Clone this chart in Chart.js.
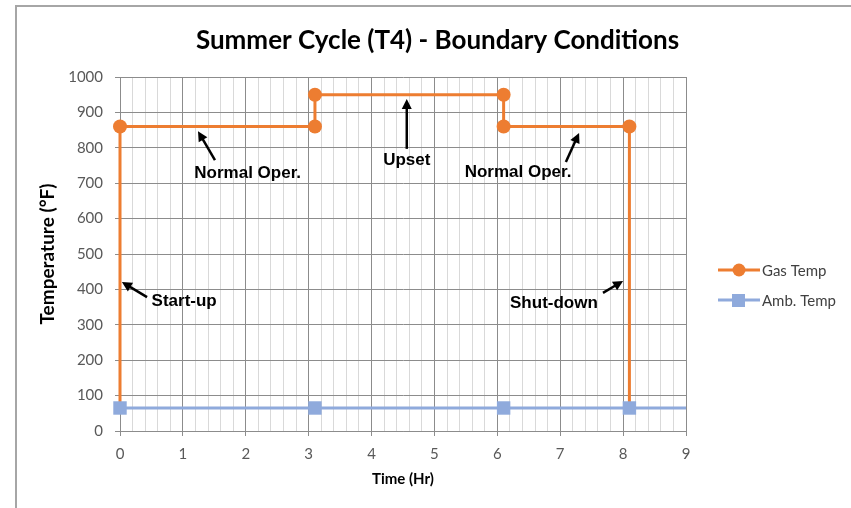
<!DOCTYPE html>
<html>
<head>
<meta charset="utf-8">
<script src="https://cdn.jsdelivr.net/npm/chart.js@4"></script>
<style>
  html, body { margin: 0; padding: 0; background: #fff; }
  #wrap { width: 851px; height: 508px; }
</style>
</head>
<body>
<div id="wrap"><canvas id="grafico" width="851" height="508"></canvas></div>
<script>
// Datos
const gasTime = [0, 0, 3.1, 3.1, 6.1, 6.1, 8.1, 8.1];
const gasTemp = [65, 860, 860, 950, 950, 860, 860, 65];
const gasMarker = [0, 1, 1, 1, 1, 1, 1, 0];
const ambTime = [0, 3.1, 6.1, 8.1, 9];
const ambTemp = [65, 65, 65, 65, 65];
const ambMarker = [1, 1, 1, 1, 0];
const seriesNames = ['Gas Temp', 'Amb. Temp'];

// Notas con flecha (en unidades de los ejes): texto, posición del texto, punta y cola de la flecha
const noteText = ['Normal Oper.', 'Upset', 'Normal Oper.', 'Start-up', 'Shut-down'];
const noteX    = [2.03, 4.56, 6.33, 1.02, 6.90];
const noteY    = [729, 766, 732, 367, 362];
const headX    = [1.24, 4.56, 7.30, 0.03, 8.00];
const headY    = [847, 938, 842, 421, 424];
const tailX    = [1.51, 4.56, 7.09, 0.43, 7.68];
const tailY    = [765, 797, 760, 378, 390];

const orange = '#ED7D31';
const blue = '#8FAADC';
const majorGrid = '#8c8c8c';
const minorGrid = '#d9d9d9';

const isMajor = v => Math.abs(v - Math.round(v)) < 1e-6;

// Marco, notas y leyenda
const extras = {
    id: 'extras',
    beforeDraw(chart) {
        const ctx = chart.ctx;
        ctx.save();
        ctx.fillStyle = '#fff';
        ctx.fillRect(0, 0, chart.width, chart.height);
        ctx.strokeStyle = '#a6a6a6';
        ctx.lineWidth = 2;
        ctx.beginPath();
        ctx.moveTo(16, chart.height);
        ctx.lineTo(16, 6);
        ctx.lineTo(chart.width, 6);
        ctx.stroke();
        ctx.restore();
    },
    afterDraw(chart) {
        const ctx = chart.ctx;
        const xs = chart.scales.x, ys = chart.scales.y;
        ctx.save();
        // notas
        ctx.font = 'bold 17px "Liberation Sans", Arial, sans-serif';
        ctx.fillStyle = '#000';
        ctx.strokeStyle = '#000';
        ctx.textAlign = 'center';
        ctx.textBaseline = 'middle';
        noteText.forEach((t, i) => {
            ctx.fillText(t, xs.getPixelForValue(noteX[i]), ys.getPixelForValue(noteY[i]));
            const hx = xs.getPixelForValue(headX[i]), hy = ys.getPixelForValue(headY[i]);
            const tx = xs.getPixelForValue(tailX[i]), ty = ys.getPixelForValue(tailY[i]);
            const ang = Math.atan2(hy - ty, hx - tx);
            const L = 10;
            ctx.lineWidth = 2.5;
            ctx.beginPath();
            ctx.moveTo(tx, ty);
            ctx.lineTo(hx - Math.cos(ang) * L * 0.7, hy - Math.sin(ang) * L * 0.7);
            ctx.stroke();
            ctx.beginPath();
            ctx.moveTo(hx, hy);
            ctx.lineTo(hx - L * Math.cos(ang) + 5 * Math.sin(ang), hy - L * Math.sin(ang) - 5 * Math.cos(ang));
            ctx.lineTo(hx - L * Math.cos(ang) - 5 * Math.sin(ang), hy - L * Math.sin(ang) + 5 * Math.cos(ang));
            ctx.closePath();
            ctx.fill();
        });
        // leyenda
        ctx.font = '15px Lato, sans-serif';
        ctx.textAlign = 'left';
        chart.data.datasets.forEach((ds, i) => {
            const y = 270 + i * 30;
            ctx.strokeStyle = ds.borderColor;
            ctx.lineWidth = 3;
            ctx.beginPath();
            ctx.moveTo(718, y);
            ctx.lineTo(760, y);
            ctx.stroke();
            ctx.fillStyle = ds.backgroundColor;
            if (ds.pointStyle === 'rect') {
                ctx.fillRect(732, y - 6, 13, 13);
            } else {
                ctx.beginPath();
                ctx.arc(739, y, 6.5, 0, Math.PI * 2);
                ctx.fill();
            }
            ctx.fillStyle = '#404040';
            ctx.fillText(ds.label, 762, y + 1);
        });
        ctx.restore();
    }
};

const ctxGrafico = document.getElementById('grafico').getContext('2d');
new Chart(ctxGrafico, {
    type: 'scatter',
    data: {
        datasets: [
            {
                label: seriesNames[0],
                data: gasTime.map((t, i) => ({ x: t, y: gasTemp[i] })),
                showLine: true,
                borderColor: orange,
                backgroundColor: orange,
                borderWidth: 3,
                pointStyle: 'circle',
                pointRadius: gasMarker.map(m => m ? 7 : 0),
                pointBorderWidth: 0,
                clip: false,
                order: 1
            },
            {
                label: seriesNames[1],
                data: ambTime.map((t, i) => ({ x: t, y: ambTemp[i] })),
                showLine: true,
                borderColor: blue,
                backgroundColor: blue,
                borderWidth: 3,
                pointStyle: 'rect',
                pointRadius: ambMarker.map(m => m ? 9.5 : 0),
                pointBorderWidth: 0,
                clip: false,
                order: 0
            }
        ]
    },
    options: {
        responsive: false,
        animation: false,
        layout: { padding: { left: 24, right: 0, top: 0, bottom: 0 } },
        plugins: {
            legend: { display: false },
            tooltip: { enabled: false },
            title: {
                display: true,
                text: 'Summer Cycle (T4) - Boundary Conditions',
                color: '#000',
                font: { family: 'Lato', size: 26, weight: 'bold' },
                padding: { top: 25.2, bottom: 20.6 }
            }
        },
        scales: {
            x: {
                type: 'linear',
                min: 0,
                max: 9,
                afterFit: s => { s.height = 77; },
                ticks: {
                    stepSize: 0.2,
                    autoSkip: false,
                    maxRotation: 0,
                    padding: 9,
                    color: '#595959',
                    font: { family: 'Lato', size: 15 },
                    callback: v => isMajor(v) ? String(Math.round(v)) : ''
                },
                grid: {
                    color: c => isMajor(c.tick.value) ? majorGrid : minorGrid,
                    tickColor: c => isMajor(c.tick.value) ? majorGrid : 'rgba(0,0,0,0)',
                    tickLength: 5
                },
                border: { color: majorGrid },
                title: {
                    display: true,
                    text: 'Time (Hr)',
                    color: '#000',
                    font: { family: 'Lato', size: 15, weight: 'bold' },
                    padding: { top: 0, bottom: 19.6 }
                }
            },
            y: {
                min: 0,
                max: 1000,
                afterFit: s => { s.width = 96; },
                ticks: {
                    stepSize: 100,
                    padding: 12,
                    color: '#595959',
                    font: { family: 'Lato', size: 15 },
                    callback: v => String(v)
                },
                grid: { color: majorGrid, tickColor: majorGrid, tickLength: 5 },
                border: { color: majorGrid },
                title: {
                    display: true,
                    text: 'Temperature (°F)',
                    color: '#000',
                    font: { family: 'Lato', size: 19, weight: 'bold' },
                    padding: { top: 12.6, bottom: 0 }
                }
            },
            // eje vacío a la derecha: deja sitio a la leyenda
            yRight: {
                type: 'linear',
                position: 'right',
                min: 0,
                max: 1,
                afterFit: s => { s.width = 165; },
                ticks: { display: false },
                grid: { drawOnChartArea: false, drawTicks: false },
                border: { display: false }
            }
        }
    },
    plugins: [extras]
});
</script>
</body>
</html>
